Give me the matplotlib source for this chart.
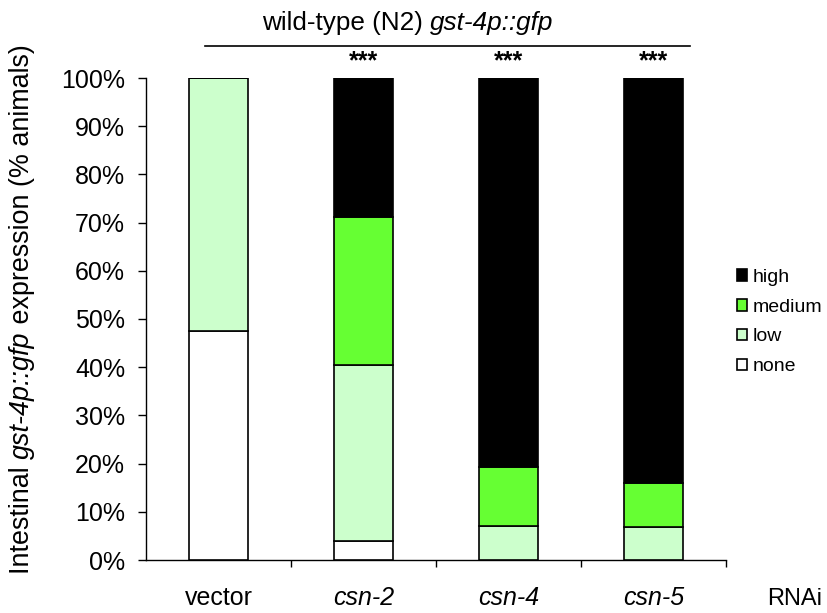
import matplotlib
matplotlib.use("Agg")
import matplotlib.pyplot as plt
from matplotlib.patches import Patch
from matplotlib.transforms import IdentityTransform
import numpy as np

plt.rcParams['font.family'] = ['Liberation Sans', 'DejaVu Sans']

categories = ["vector", "csn-2", "csn-4", "csn-5"]
none_vals = [47.5, 4.0, 0.0, 0.0]
low_vals = [52.5, 36.5, 7.1, 6.8]
medium_vals = [0.0, 30.7, 12.2, 9.2]
high_vals = [0.0, 28.8, 80.7, 84.0]
stars = ["", "***", "***", "***"]
yticks = [0, 10, 20, 30, 40, 50, 60, 70, 80, 90, 100]

series = [("none", none_vals, "#FFFFFF"),
          ("low", low_vals, "#CCFFCC"),
          ("medium", medium_vals, "#66FF33"),
          ("high", high_vals, "#000000")]

FS = 18
W, H = 827, 613
fig = plt.figure(figsize=(W / 100, H / 100), dpi=100)
ax = fig.add_axes([146 / W, 1 - 560 / H, 580 / W, (560 - 78) / H])

x = np.arange(len(categories))
bottom = np.zeros(len(categories))
handles = {}
for name, vals, col in series:
    v = np.array(vals, dtype=float)
    ax.bar(x, v, bottom=bottom, width=0.41, color=col, edgecolor="black",
           linewidth=1.2, zorder=3)
    handles[name] = Patch(facecolor=col, edgecolor="black", linewidth=1.2)
    bottom += v

ax.set_xlim(-0.5, len(categories) - 0.5)
ax.set_ylim(0, 100)
ax.set_yticks(yticks)
ax.set_yticklabels([f"{t}%" for t in yticks], fontsize=FS)
ax.tick_params(axis="y", direction="out", length=6, width=1, pad=9)

ax.set_xticks(np.arange(len(categories)) + 0.5)
ax.set_xticklabels([])
ax.tick_params(axis="x", which="major", direction="out", length=5, width=1)
ax.set_xticks(x, minor=True)
ax.set_xticklabels(categories, minor=True, fontsize=FS)
for lbl in ax.get_xticklabels(minor=True):
    if lbl.get_text() != "vector":
        lbl.set_fontstyle("italic")
ax.tick_params(axis="x", which="minor", length=0, pad=19)

for s in ["top", "right"]:
    ax.spines[s].set_visible(False)
for s in ["left", "bottom"]:
    ax.spines[s].set_linewidth(1)

for xi, st, tot in zip(x, stars, bottom):
    if st:
        ax.text(xi, tot + 1.0, st, ha="center", va="bottom", fontsize=FS,
                fontweight="bold")

fig.text(822 / W, 1 - 599 / H, "RNAi", fontsize=17, ha="right", va="center")

# title line
fig.add_artist(plt.Line2D([205 / W, 690 / W], [1 - 46 / H, 1 - 46 / H],
                          color="black", linewidth=1.2))

renderer = fig.canvas.get_renderer()


def text_width(s, style, fs):
    t1 = fig.text(0, 0, s + "|", fontsize=fs, fontstyle=style)
    t2 = fig.text(0, 0, "|", fontsize=fs, fontstyle=style)
    w = t1.get_window_extent(renderer).width - t2.get_window_extent(renderer).width
    t1.remove()
    t2.remove()
    return w


def rich_text(parts, cx, cy, fs, rotation=0):
    widths = [text_width(s, st, fs) for s, st in parts]
    total = sum(widths)
    pos = -total / 2
    for (s, st), w in zip(parts, widths):
        if rotation == 0:
            px, py = cx + pos, cy
        else:
            px, py = cx, cy + pos
        fig.text(px, py, s, fontsize=fs, fontstyle=st, rotation=rotation,
                 rotation_mode="anchor", ha="left", va="baseline",
                 transform=IdentityTransform())
        pos += w


rich_text([("wild-type (N2) ", "normal"), ("gst-4p::gfp", "italic")],
          408, H - 30, 18.8)
rich_text([("Intestinal ", "normal"), ("gst-4p::gfp", "italic"),
           (" expression (% animals)", "normal")],
          29, H - 309, 19.4, rotation=90)

order = ["high", "medium", "low", "none"]
fig.legend([handles[n] for n in order], order, loc="upper left",
           bbox_to_anchor=(729 / W, 1 - 261 / H), frameon=False, fontsize=14,
           handlelength=0.55, handleheight=0.55, handletextpad=0.25,
           labelspacing=0.66, borderaxespad=0)

fig.savefig("out.png", dpi=100)
